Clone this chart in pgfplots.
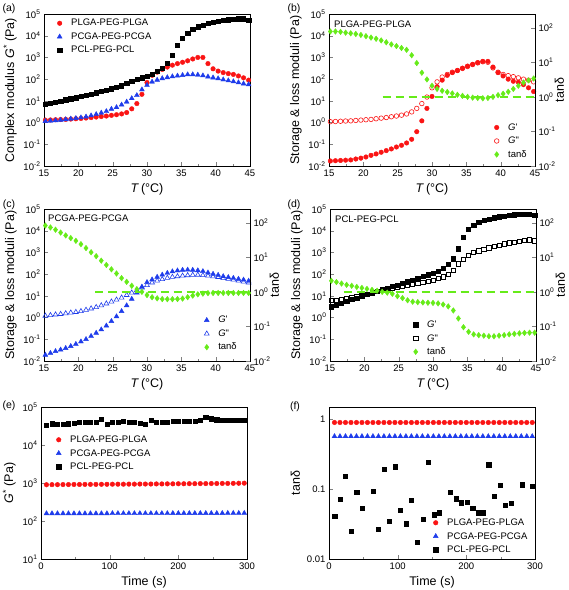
\documentclass[border=0pt]{standalone}
\usepackage{pgfplots}
\usepackage{pgfplotstable}
\pgfplotsset{compat=1.18}
\usepackage{fontspec}
\setmainfont{Liberation Sans}
\definecolor{cred}{RGB}{250,20,20}
\definecolor{cblue}{RGB}{30,60,235}
\definecolor{cgreen}{RGB}{102,235,25}

\pgfplotstableread{
T PLGA PCGA PCL
15.2 1.3 1.15 7.2
15.94 1.32 1.2 7.9
16.68 1.35 1.25 8.9
17.42 1.38 1.32 10
18.16 1.4 1.4 11.2
18.9 1.45 1.48 12.6
19.64 1.5 1.58 14.1
20.38 1.55 1.7 15.8
21.12 1.62 1.85 18.2
21.86 1.7 2.1 20.9
22.6 1.8 2.4 24
23.34 1.9 2.8 27.5
24.08 2.0 3.3 31.6
24.82 2.15 4.2 36.3
25.56 2.3 5.0 42.7
26.3 2.5 6.6 50
27.04 2.9 9 63
27.78 4.3 13 79
28.52 7.5 18 100
29.26 20 33 117
30.0 70 53 138
30.74 150 75 174
31.48 210 92 229
32.22 280 108 316
32.96 360 120 550
33.7 440 132 1260
34.44 520 142 3550
35.18 600 152 7900
35.92 700 163 13200
36.66 850 163 20000
37.4 1000 157 26300
38.14 1000 146 31600
38.88 520 130 37000
39.62 300 117 42700
40.36 235 107 46800
41.1 200 95 51300
41.84 180 86 55000
42.58 165 78 58900
43.32 140 70 60300
44.06 115 62 60300
44.8 90 57 51300
}\tabA

\pgfplotstableread{
T G1 G2 tan
15.2 0.017 1.1 78
15.94 0.0175 1.12 78
16.68 0.018 1.15 76
17.42 0.0185 1.18 72
18.16 0.019 1.2 69
18.9 0.021 1.25 66
19.64 0.023 1.3 62
20.38 0.026 1.35 57
21.12 0.031 1.4 52
21.86 0.036 1.5 48
22.6 0.043 1.6 43
23.34 0.051 1.7 38
24.08 0.061 1.85 33
24.82 0.075 2.0 29.5
25.56 0.09 2.2 26
26.3 0.115 2.5 23
27.04 0.17 3.1 16
27.78 0.38 4.5 9.5
28.52 1.2 7.5 5
29.26 4.5 15 3.2
30.0 16 40 2.1
30.74 45 75 1.7
31.48 90 125 1.5
32.22 150 165 1.38
32.96 200 210 1.26
33.7 250 250 1.15
34.44 320 310 1.07
35.18 400 380 1.0
35.92 480 470 0.95
36.66 580 560 0.93
37.4 660 630 0.91
38.14 660 600 0.93
38.88 360 330 1.0
39.62 200 210 1.12
40.36 140 165 1.23
41.1 100 145 1.4
41.84 80 130 1.7
42.58 72 115 2.1
43.32 56 100 2.6
44.06 40 90 3.0
44.8 27 75 3.4
}\tabB

\pgfplotstableread{
T G1 G2 tan
15.2 0.019 1.2 83
15.94 0.023 1.28 73
16.68 0.028 1.37 63
17.42 0.033 1.45 52
18.16 0.039 1.55 43
18.9 0.048 1.68 36
19.64 0.06 1.78 30
20.38 0.078 1.95 24
21.12 0.1 2.25 18.5
21.86 0.14 2.6 14
22.6 0.195 3.0 10.8
23.34 0.28 3.6 8
24.08 0.42 4.4 6
24.82 0.68 5.4 4.5
25.56 1.12 6.6 3.4
26.3 1.95 8.2 2.5
27.04 3.6 10.8 1.95
27.78 7.2 14 1.5
28.52 14 18 1.2
29.26 26 24 1.0
30.0 42 31 0.81
30.74 56 41 0.7
31.48 74 50 0.65
32.22 93 58 0.62
32.96 112 67 0.615
33.7 132 74 0.615
34.44 145 79 0.62
35.18 155 84 0.64
35.92 158 88 0.7
36.66 155 92 0.78
37.4 148 93 0.85
38.14 135 89 0.89
38.88 117 84 0.92
39.62 102 78 0.93
40.36 91 73 0.93
41.1 79 65 0.93
41.84 72 60 0.93
42.58 66 55 0.93
43.32 60 50 0.93
44.06 55 45 0.93
44.8 49 41 0.93
}\tabC

\pgfplotstableread{
T G1 G2 tan
15.2 3.2 6.0 2.1
15.94 3.9 6.4 1.92
16.68 4.6 7.0 1.74
17.42 5.6 7.7 1.6
18.16 6.8 8.3 1.5
18.9 8 9.2 1.39
19.64 9.5 10.5 1.3
20.38 11.5 12 1.22
21.12 13.8 13.8 1.14
21.86 16.5 16 1.08
22.6 19.5 19 1.0
23.34 23 21 0.95
24.08 27 23 0.88
24.82 31.5 25 0.75
25.56 38 28 0.66
26.3 45 31.5 0.57
27.04 53 34 0.52
27.78 65 38 0.505
28.52 78 42 0.495
29.26 95 47 0.485
30.0 115 54 0.48
30.74 140 63 0.465
31.48 190 76 0.43
32.22 280 98 0.38
32.96 520 155 0.29
33.7 1500 300 0.17
34.44 5000 500 0.095
35.18 12000 750 0.07
35.92 18500 1000 0.059
36.66 24000 1200 0.056
37.4 30000 1400 0.054
38.14 34500 1650 0.052
38.88 40000 1900 0.052
39.62 44000 2200 0.054
40.36 47500 2500 0.056
41.1 51000 2800 0.059
41.84 55000 3000 0.061
42.58 58000 3300 0.063
43.32 59000 3650 0.065
44.06 59000 3800 0.066
44.8 50000 3450 0.066
}\tabD

\pgfplotstableread{
t PLGA PCGA PCL
8 900 158 33700
16 905 158 36500
24 905 158 35100
32 910 158 35100
40 910 158 36500
48 915 158 37300
56 915 158 38900
64 920 158 38900
72 920 158 38900
80 920 158 40500
88 925 158 47500
96 925 158 35100
104 930 159 38900
112 930 159 40500
120 930 159 43000
128 935 159 40500
136 935 159 40500
144 940 159 37300
152 940 159 35800
160 940 159 44700
168 945 159 40500
176 945 159 40500
184 950 159 38900
192 950 160 41500
200 955 160 43000
208 955 160 43000
216 960 160 43000
224 960 160 43000
232 965 160 44700
240 965 160 54700
248 970 160 49400
256 970 160 46600
264 975 160 46000
272 975 161 44700
280 980 161 44700
288 985 161 44700
296 990 161 44700
}\tabE

\pgfplotstableread{
t PLGA PCGA
8 0.9 0.57
16 0.9 0.57
24 0.9 0.57
32 0.9 0.57
40 0.9 0.57
48 0.9 0.57
56 0.9 0.57
64 0.9 0.57
72 0.9 0.57
80 0.9 0.57
88 0.9 0.57
96 0.9 0.57
104 0.9 0.57
112 0.9 0.57
120 0.9 0.57
128 0.9 0.57
136 0.9 0.57
144 0.9 0.57
152 0.9 0.57
160 0.9 0.57
168 0.9 0.57
176 0.9 0.57
184 0.9 0.57
192 0.9 0.57
200 0.9 0.57
208 0.9 0.57
216 0.9 0.57
224 0.9 0.57
232 0.9 0.57
240 0.9 0.57
248 0.9 0.57
256 0.9 0.57
264 0.9 0.57
272 0.9 0.57
280 0.9 0.57
288 0.9 0.57
296 0.9 0.57
}\tabF

\pgfplotstableread{
t PCL
8.2 0.041
16 0.072
23.8 0.155
32.5 0.025
40.2 0.09
48 0.054
64 0.094
72.2 0.027
80 0.194
88.2 0.035
96 0.21
104 0.05
112.5 0.032
120 0.069
129 0.0175
136.7 0.037
144.5 0.245
152.7 0.043
161 0.046
177 0.091
184.7 0.073
193 0.064
201 0.065
209.4 0.054
217 0.046
225 0.046
232.7 0.224
241 0.079
249 0.113
257 0.059
265 0.063
281 0.116
296.6 0.11
}\tabFPCL

\pgfplotsset{
  myPanel/.style={scale only axis, anchor=south west, width=206pt, height=152pt,
    tick align=inside, tick pos=left, major tick length=4pt, minor tick length=2pt,
    ticklabel style={font=\fontsize{9.5}{11}\selectfont},
    label style={font=\fontsize{12.5}{14}\selectfont},
    /pgf/number format/assume math mode=true,
    legend cell align=left,
    legend image code/.code={\path[draw=none,fill=none] (-6pt,0pt) rectangle (10pt,0.1pt); \draw[##1] plot coordinates {(0pt,0pt)};},
    legend style={draw=none, fill=none, font=\fontsize{9.5}{11}\selectfont,
      inner sep=0pt, row sep=0pt, nodes={inner sep=1.5pt, text height=8pt, text depth=2.5pt}},
  },
  myTax/.style={xmin=15, xmax=45, xtick={15,20,...,45}, minor x tick num=1,
    xlabel={\textit{T}\,(°C)}},
  myPowLabels/.style={yticklabel={10\textsuperscript{\pgfmathprintnumber[fixed,precision=0]{\tick}}}},
  myRight/.style={axis y line*=right, axis x line=none,
    ymin=0.01, ymax=250, ytick={0.01,0.1,1,10,100}, ytick pos=right,
    ylabel={tanδ},
    y label style={at={(axis description cs:1.118,0.5)}, anchor=center}},
  sPLGA/.style={only marks, mark=*, mark size=2.3pt, color=cred},
  sPLGAo/.style={only marks, mark=o, mark size=2.3pt, color=cred, line width=0.6pt},
  sPCGA/.style={only marks, mark=triangle*, mark size=2.8pt, color=cblue},
  sPCGAo/.style={only marks, mark=triangle, mark size=2.8pt, color=cblue, line width=0.6pt},
  sPCL/.style={only marks, mark=square*, mark size=2.1pt, color=black},
  sPCLo/.style={only marks, mark=square, mark size=2.1pt, color=black, line width=0.6pt},
  sTan/.style={only marks, mark=diamond*, mark size=2.8pt, color=cgreen},
  sDash/.style={no markers, color=cgreen, line width=1.4pt, dash pattern=on 8pt off 5pt},
}

\begin{document}
\begin{tikzpicture}[x=1pt,y=1pt]
\useasboundingbox (0pt,0pt) rectangle (569pt,590pt);

% (a)
\begin{axis}[myPanel, myTax, ymode=log, log basis y=10, yminorticks=false, myPowLabels,
  at={(44pt,424pt)}, ymin=0.01, ymax=1e5,
  ylabel={Complex modulus \textit{G}\textsuperscript{*} (Pa)},
  legend style={at={(axis description cs:0.046,0.985)}, anchor=north west}]
\addplot[sPLGA] table[x=T,y=PLGA]{\tabA};
\addlegendentry{PLGA-PEG-PLGA}
\addplot[sPCGA] table[x=T,y=PCGA]{\tabA};
\addlegendentry{PCGA-PEG-PCGA}
\addplot[sPCL] table[x=T,y=PCL]{\tabA};
\addlegendentry{PCL-PEG-PCL}
\end{axis}

% (b)
\begin{axis}[myPanel, myTax, ymode=log, log basis y=10, yminorticks=false, myPowLabels,
  at={(329pt,424pt)}, ymin=0.01, ymax=1e5,
  ylabel={Storage \& loss moduli (Pa)},
  legend style={at={(axis description cs:0.784,0.03)}, anchor=south west}]
\addplot[sPLGA] table[x=T,y=G1]{\tabB};
\addlegendentry{\textit{G}\textquotesingle}
\addplot[sPLGAo] table[x=T,y=G2]{\tabB};
\addlegendentry{\textit{G}\textquotedbl}
\addlegendimage{sTan}
\addlegendentry{tanδ}
\end{axis}
\begin{axis}[myPanel, myTax, ymode=log, log basis y=10, myPowLabels, myRight, at={(329pt,424pt)}]
\addplot[sDash] coordinates {(22.8,1) (45,1)};
\addplot[sTan] table[x=T,y=tan]{\tabB};
\end{axis}

% (c)
\begin{axis}[myPanel, myTax, ymode=log, log basis y=10, yminorticks=false, myPowLabels,
  at={(44pt,229pt)}, ymin=0.01, ymax=1e5,
  ylabel={Storage \& loss moduli (Pa)},
  legend style={at={(axis description cs:0.76,0.045)}, anchor=south west}]
\addplot[sPCGA] table[x=T,y=G1]{\tabC};
\addlegendentry{\textit{G}\textquotesingle}
\addplot[sPCGAo] table[x=T,y=G2]{\tabC};
\addlegendentry{\textit{G}\textquotedbl}
\addlegendimage{sTan}
\addlegendentry{tanδ}
\end{axis}
\begin{axis}[myPanel, myTax, ymode=log, log basis y=10, myPowLabels, myRight, at={(44pt,229pt)}]
\addplot[sDash] coordinates {(22.5,1) (45,1)};
\addplot[sTan] table[x=T,y=tan]{\tabC};
\end{axis}

% (d)
\begin{axis}[myPanel, myTax, ymode=log, log basis y=10, yminorticks=false, myPowLabels,
  at={(330pt,229pt)}, ymin=0.01, ymax=1e5,
  ylabel={Storage \& loss moduli (Pa)},
  legend style={at={(axis description cs:0.386,0.015)}, anchor=south west}]
\addplot[sPCL] table[x=T,y=G1]{\tabD};
\addlegendentry{\textit{G}\textquotesingle}
\addplot[sPCLo] table[x=T,y=G2]{\tabD};
\addlegendentry{\textit{G}\textquotedbl}
\addlegendimage{sTan}
\addlegendentry{tanδ}
\end{axis}
\begin{axis}[myPanel, myTax, ymode=log, log basis y=10, myPowLabels, myRight, at={(330pt,229pt)}]
\addplot[sDash] coordinates {(17,1) (45,1)};
\addplot[sTan] table[x=T,y=tan]{\tabD};
\end{axis}

% (e)
\begin{axis}[myPanel, ymode=log, log basis y=10, yminorticks=false, myPowLabels,
  at={(41pt,31pt)}, ymin=10, ymax=1e5,
  xmin=0, xmax=300, xtick={0,100,200,300}, minor x tick num=1,
  xlabel={Time (s)}, ylabel={\textit{G}\textsuperscript{*} (Pa)},
  legend style={at={(axis description cs:0.056,0.83)}, anchor=north west}]
\addplot[sPLGA] table[x=t,y=PLGA]{\tabE};
\addlegendentry{PLGA-PEG-PLGA}
\addplot[sPCGA] table[x=t,y=PCGA]{\tabE};
\addlegendentry{PCGA-PEG-PCGA}
\addplot[sPCL] table[x=t,y=PCL]{\tabE};
\addlegendentry{PCL-PEG-PCL}
\end{axis}

% (f)
\begin{axis}[myPanel, at={(329pt,31pt)}, ymode=log, ymin=0.01, ymax=1.5,
  ytick={0.01,0.1,1}, yticklabels={0.01,0.1,1}, yminorticks=false,
  xmin=0, xmax=300, xtick={0,100,200,300}, minor x tick num=1,
  xlabel={Time (s)}, ylabel={tanδ},
  legend style={at={(axis description cs:0.488,0.015)}, anchor=south west}]
\addplot[sPLGA] table[x=t,y=PLGA]{\tabF};
\addlegendentry{PLGA-PEG-PLGA}
\addplot[sPCGA] table[x=t,y=PCGA]{\tabF};
\addlegendentry{PCGA-PEG-PCGA}
\addplot[sPCL] table[x=t,y=PCL]{\tabFPCL};
\addlegendentry{PCL-PEG-PCL}
\end{axis}

% panel letters and inner titles
\begin{scope}[every node/.style={font=\fontsize{10.5}{12}\selectfont}]
\node at (9pt,581pt) {(a)};
\node at (294pt,581pt) {(b)};
\node at (9pt,385pt) {(c)};
\node at (294pt,385pt) {(d)};
\node at (9pt,184pt) {(e)};
\node at (295pt,183pt) {(f)};
\end{scope}
\begin{scope}[every node/.style={font=\fontsize{9.5}{11}\selectfont, anchor=west, inner sep=0pt}]
\node at (334pt,566pt) {PLGA-PEG-PLGA};
\node at (48pt,372pt) {PCGA-PEG-PCGA};
\node at (335pt,371pt) {PCL-PEG-PCL};
\end{scope}
\end{tikzpicture}
\end{document}
